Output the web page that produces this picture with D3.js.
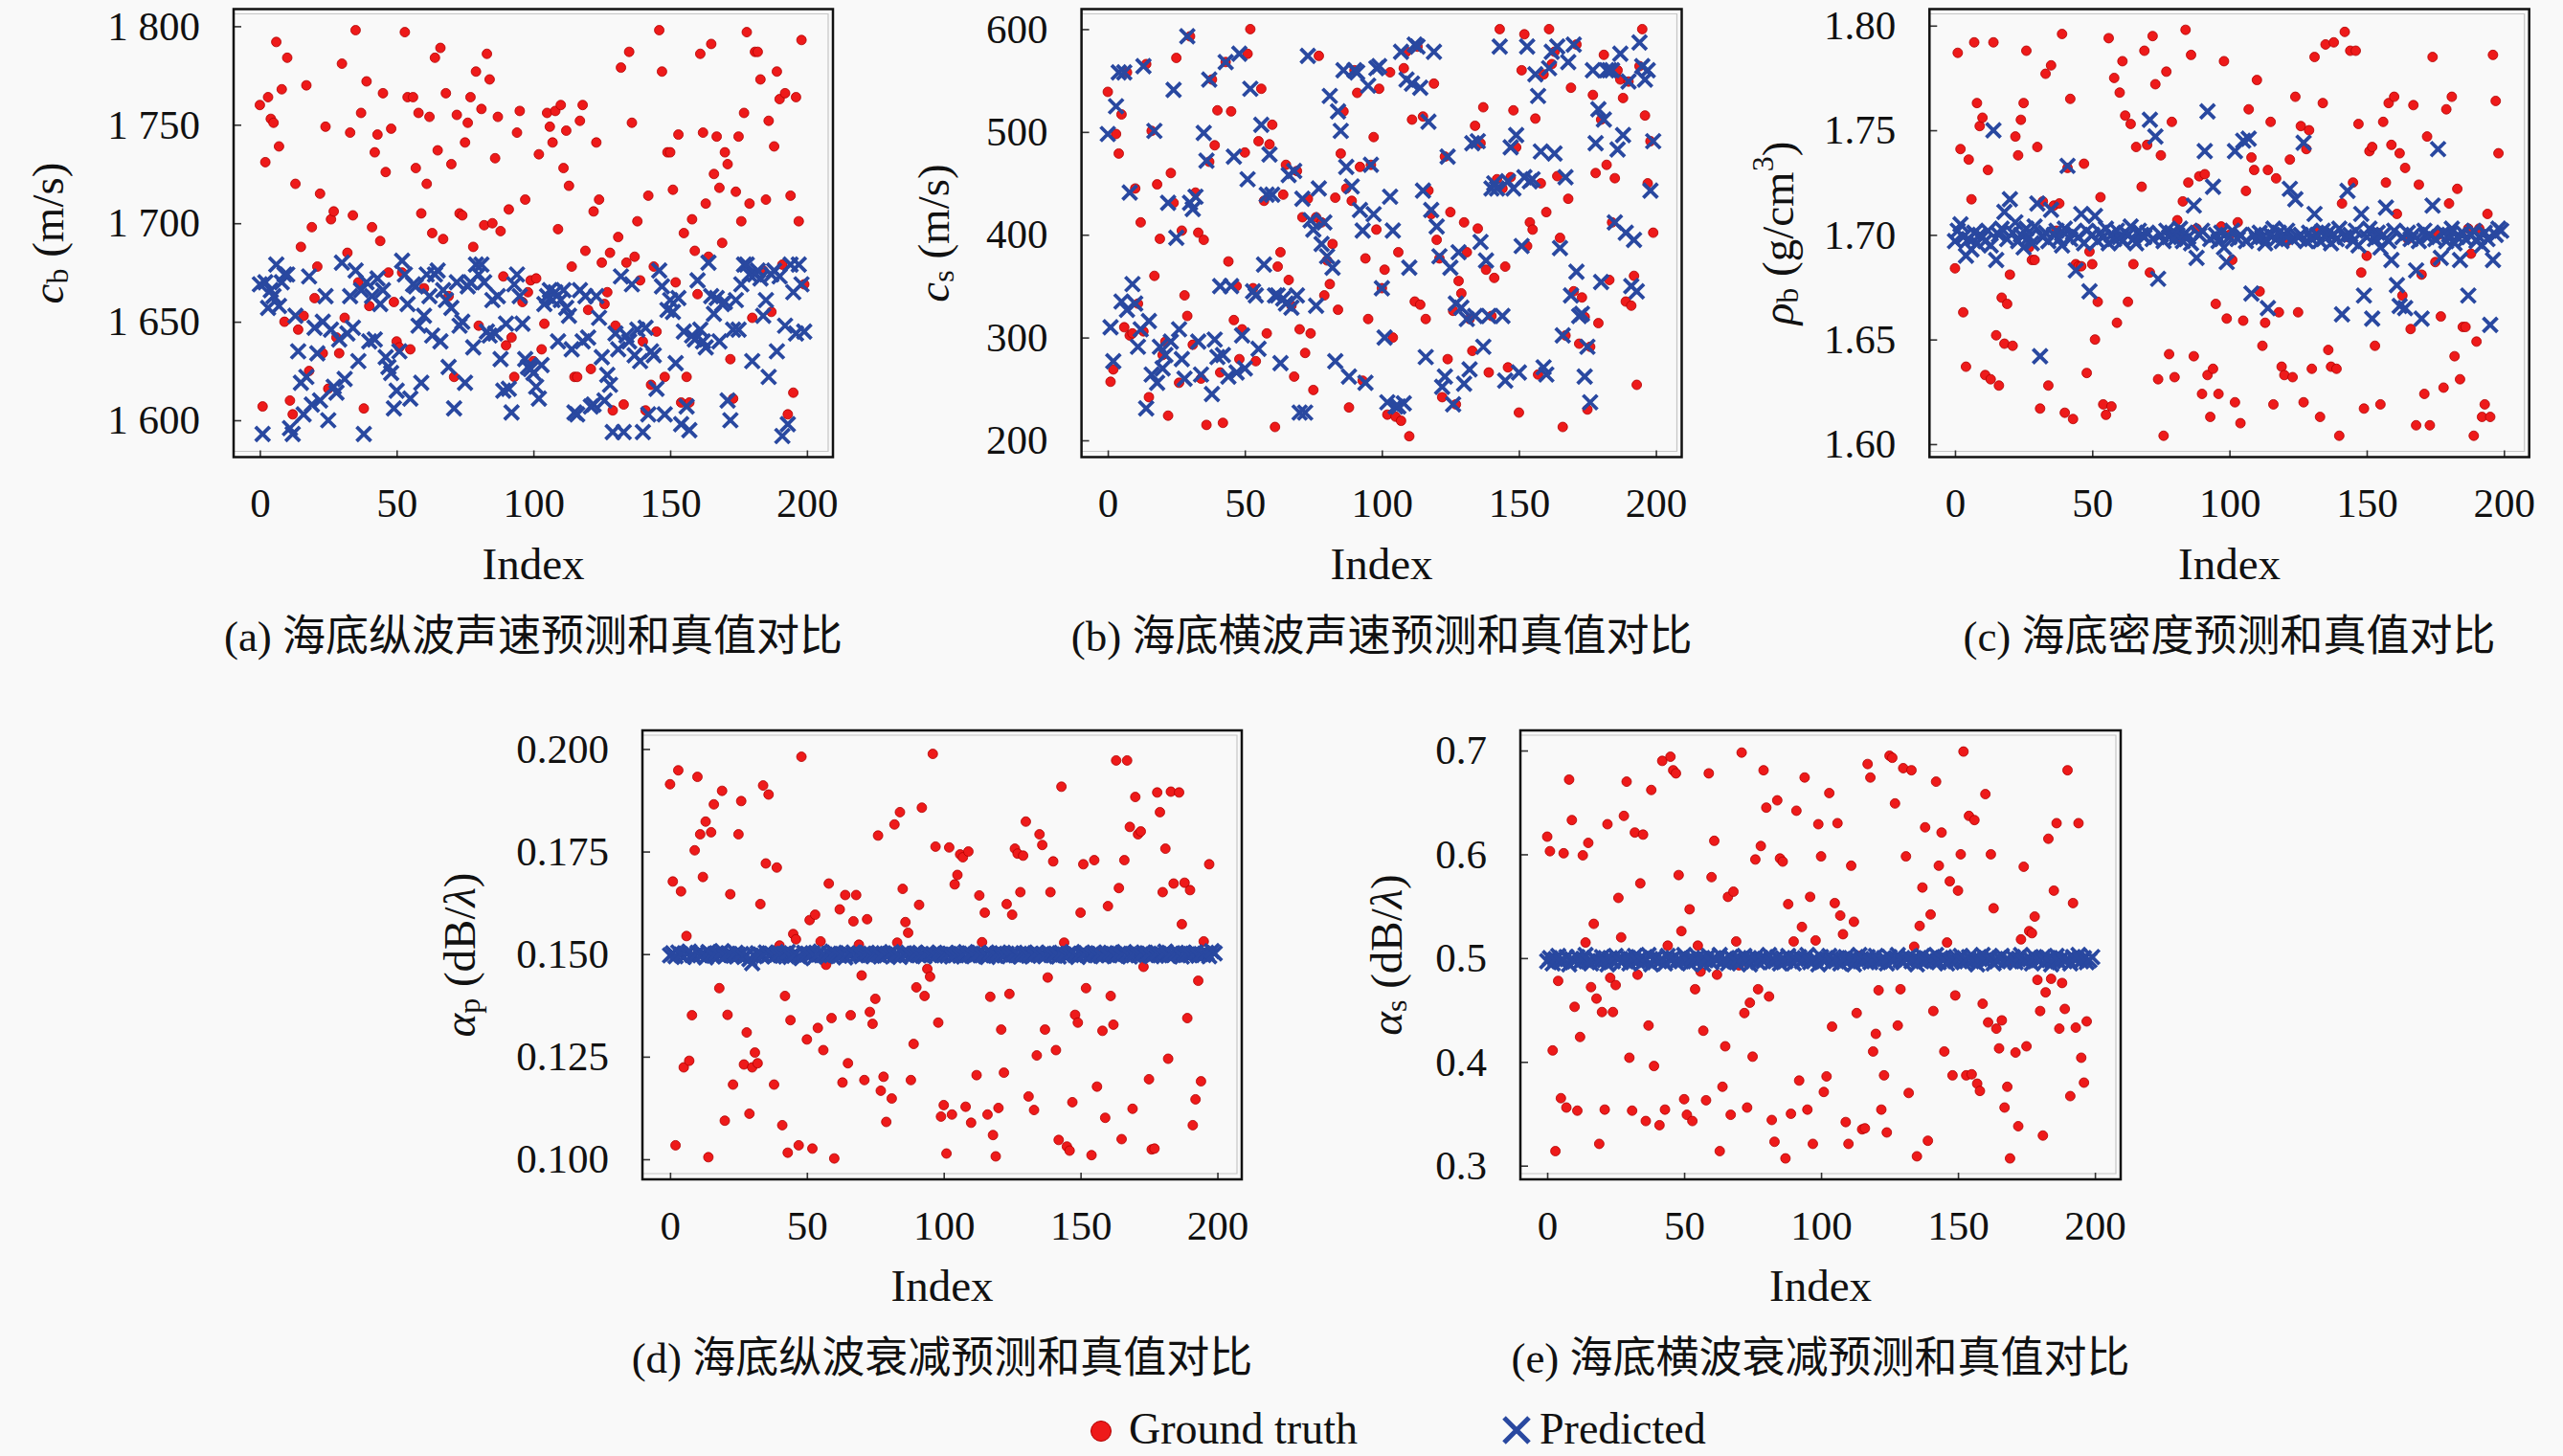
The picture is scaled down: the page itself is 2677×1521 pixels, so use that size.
<!DOCTYPE html>
<html>
<head>
<meta charset="utf-8">
<script src="https://cdn.jsdelivr.net/npm/d3@7"></script>
<style>
  body { margin: 0; background: #f9f9f9; }
  svg text { font-family: "Liberation Serif", "Noto Sans CJK SC", serif; fill: #111; }
</style>
</head>
<body>
<svg id="chart" width="2677" height="1521"></svg>
<script>
// ---- data ----
const xTicks = [0, 50, 100, 150, 200];

// (a) compressional speed c_b (m/s)
const aTicks = [1600, 1650, 1700, 1750, 1800];
const aTickLabels = ['1 600', '1 650', '1 700', '1 750', '1 800'];
const aTrue = [
  1760,1607,1731,1764,1753,1751,1792,1739,1768,1650,
  1784,1610,1603,1720,1646,1688,1653,1770,1625,1698,
  1662,1678,1715,1634,1749,1616,1702,1706,1642,1634,
  1781,1652,1685,1746,1704,1798,1670,1756,1606,1772,
  1658,1698,1736,1745,1691,1766,1726,1675,1748,1660,
  1640,1637,1675,1797,1764,1636,1764,1728,1756,1705,
  1667,1720,1754,1695,1784,1737,1789,1692,1766,1663,
  1730,1622,1755,1705,1704,1741,1751,1764,1688,1777,
  1648,1758,1699,1786,1773,1700,1733,1754,1696,1673,
  1638,1707,1642,1622,1746,1757,1660,1712,1665,1671,
  1630,1672,1735,1636,1649,1756,1749,1741,1757,1697,
  1760,1728,1747,1719,1678,1622,1622,1752,1760,1686,
  1656,1626,1706,1741,1712,1680,1659,1665,1685,1605,
  1648,1693,1779,1608,1680,1787,1751,1683,1701,1671,
  1640,1605,1714,1618,1678,1645,1798,1777,1622,1736,
  1736,1717,1670,1745,1609,1695,1622,1609,1702,1686,
  1664,1786,1746,1710,1683,1791,1725,1744,1718,1690,
  1736,1730,1631,1611,1716,1744,1701,1756,1797,1710,
  1652,1787,1787,1773,1676,1712,1752,1655,1739,1777,
  1763,1679,1766,1603,1714,1614,1764,1701,1793,1669
];
const aPred = [
  1669,1593,1670,1657,1666,1663,1679,1658,1670,1674,
  1674,1596,1593,1653,1635,1619,1603,1622,1673,1608,
  1647,1634,1610,1650,1663,1600,1646,1617,1614,1641,
  1680,1621,1644,1663,1647,1676,1630,1666,1593,1670,
  1640,1663,1641,1672,1659,1666,1632,1627,1624,1606,
  1615,1635,1681,1674,1659,1611,1669,1668,1648,1619,
  1653,1674,1663,1643,1674,1676,1640,1666,1661,1627,
  1657,1606,1670,1648,1650,1619,1668,1670,1637,1679,
  1674,1679,1670,1645,1643,1661,1644,1663,1631,1615,
  1649,1616,1604,1669,1674,1663,1649,1631,1627,1626,
  1624,1617,1611,1628,1659,1663,1666,1661,1665,1640,
  1661,1666,1657,1653,1636,1604,1603,1666,1640,1663,
  1642,1607,1608,1663,1652,1632,1610,1623,1618,1594,
  1644,1636,1673,1594,1643,1640,1669,1633,1646,1630,
  1594,1647,1603,1635,1633,1616,1676,1668,1603,1656,
  1661,1655,1629,1662,1598,1645,1607,1595,1643,1641,
  1671,1646,1640,1637,1680,1663,1654,1662,1640,1659,
  1660,1610,1600,1646,1661,1646,1669,1679,1679,1674,
  1630,1674,1676,1672,1653,1661,1622,1674,1676,1635,
  1673,1592,1648,1598,1679,1665,1644,1679,1669,1645
];

// (b) shear speed c_s (m/s)
const bTicks = [200, 300, 400, 500, 600];
const bTickLabels = ['200', '300', '400', '500', '600'];
const bTrue = [
  539,257,269,498,479,517,310,558,302,304,445,333,412,
  306,566,242,501,360,449,396,283,296,224,460,431,572,256,
  404,341,321,593,293,441,402,260,395,215,471,551,487,
  521,266,217,568,374,520,317,350,279,308,480,576,600,
  348,277,491,542,433,304,488,507,213,369,383,439,468,
  356,331,262,462,308,417,285,435,304,249,417,574,412,
  341,375,352,391,436,327,479,520,445,232,433,560,538,466,
  258,377,318,468,495,405,542,348,366,225,558,300,223,
  383,219,562,578,204,512,335,583,332,515,318,443,420,547,
  395,377,242,476,279,422,326,235,355,343,412,383,318,
  287,506,406,489,524,366,266,321,358,454,600,445,369,
  271,456,521,485,227,560,595,389,412,405,513,264,450,556,
  422,600,566,578,457,397,213,302,435,543,345,585,294,
  339,320,230,291,536,460,314,512,575,468,356,412,455,560,
  551,533,335,549,331,360,254,564,600,516,450,491,402
];
const bPred = [
  498,310,277,525,558,335,558,327,441,352,
  333,291,308,564,231,316,264,501,256,291,270,
  283,431,296,541,397,308,279,260,593,431,425,
  437,296,264,499,472,551,245,298,281,350,283,
  568,262,350,476,266,576,302,270,454,542,345,
  341,289,507,371,439,478,439,341,341,275,338,
  333,458,329,462,341,227,435,227,574,414,405,
  331,445,391,412,379,535,368,277,520,501,560,
  466,262,447,560,558,424,404,256,545,468,420,
  562,564,348,300,237,437,404,233,233,578,236,
  551,368,547,585,583,543,443,281,510,424,578,
  408,379,252,262,476,368,235,333,383,329,255,
  318,269,489,321,491,393,291,375,321,445,450,
  445,583,321,258,452,485,445,497,266,389,456,
  583,452,454,556,535,481,271,264,562,578,
  479,583,387,302,456,568,341,585,364,321,
  323,262,291,237,560,489,522,354,512,560,
  560,560,412,483,576,497,402,549,350,395,
  345,587,564,551,560,443,491
];

// (c) density rho_b (g/cm3)
const cTicks = [1.60, 1.65, 1.70, 1.75, 1.80];
const cTickLabels = ['1.60', '1.65', '1.70', '1.75', '1.80'];
const cTrue = [
  1.684,1.787,1.741,1.663,1.637,1.736,1.717,1.792,1.763,1.752,
  1.756,1.633,1.731,1.631,1.792,1.652,1.628,1.670,1.648,1.667,
  1.681,1.647,1.747,1.738,1.755,1.763,1.788,1.694,1.688,1.688,
  1.742,1.617,1.716,1.777,1.628,1.781,1.714,1.702,1.715,1.796,
  1.615,1.732,1.765,1.612,1.686,1.685,1.685,1.734,1.634,1.692,
  1.686,1.650,1.668,1.718,1.619,1.614,1.794,1.618,1.775,1.658,
  1.768,1.783,1.757,1.668,1.753,1.686,1.742,1.699,1.723,1.788,
  1.743,1.682,1.795,1.772,1.631,1.738,1.604,1.778,1.643,1.754,
  1.632,1.707,1.698,1.716,1.798,1.725,1.786,1.642,1.703,1.728,
  1.624,1.729,1.633,1.613,1.636,1.667,1.624,1.704,1.783,1.660,1.700,
  1.688,1.620,1.706,1.610,1.659,1.721,1.760,1.737,1.731,1.774,
  1.673,1.647,1.658,1.731,1.754,1.619,1.727,1.663,1.637,1.633,1.697,
  1.736,1.632,1.766,1.663,1.752,1.620,1.741,1.750,1.636,1.785,1.702,
  1.613,1.763,1.791,1.645,1.637,1.792,1.636,1.604,1.715,1.797,1.699,
  1.788,1.725,1.788,1.753,1.682,1.617,1.690,1.740,1.742,1.647,1.701,
  1.619,1.754,1.725,1.763,1.743,1.766,1.710,1.739,1.671,1.732,1.698,
  1.655,1.762,1.609,1.724,1.681,1.624,1.747,1.609,1.785,1.687,1.700,
  1.661,1.627,1.760,1.715,1.766,1.642,1.722,1.631,1.656,1.656,1.703,
  1.691,1.604,1.649,1.703,1.613,1.619,1.710,1.613,1.786,1.764,
  1.739
];
const cPred = [
  1.697,1.702,1.705,1.699,1.690,1.698,1.693,1.701,1.696,1.700,
  1.699,1.697,1.702,1.695,1.750,1.688,1.700,1.703,1.711,1.698,
  1.717,1.701,1.706,1.697,1.700,1.694,1.703,1.699,1.696,1.704,
  1.715,1.642,1.699,1.701,1.697,1.712,1.700,1.702,1.698,1.695,
  1.703,1.733,1.698,1.701,1.683,1.699,1.710,1.696,1.702,1.673,
  1.700,1.709,1.697,1.701,1.699,1.703,1.696,1.700,1.698,1.702,
  1.699,1.697,1.701,1.700,1.704,1.698,1.696,1.702,1.700,1.699,
  1.701,1.755,1.698,1.747,1.679,1.700,1.697,1.702,1.699,1.701,
  1.698,1.700,1.703,1.697,1.701,1.699,1.696,1.714,1.689,1.700,
  1.702,1.740,1.759,1.698,1.723,1.700,1.697,1.701,1.694,1.687,
  1.699,1.702,1.740,1.698,1.700,1.745,1.697,1.746,1.672,1.700,
  1.698,1.701,1.699,1.696,1.665,1.700,1.703,1.698,1.701,1.697,
  1.700,1.702,1.722,1.698,1.717,1.699,1.700,1.744,1.697,1.701,
  1.698,1.710,1.700,1.697,1.702,1.699,1.701,1.696,1.700,1.698,
  1.703,1.662,1.699,1.721,1.700,1.697,1.702,1.695,1.710,1.671,
  1.699,1.703,1.660,1.698,1.701,1.694,1.700,1.713,1.697,1.688,
  1.702,1.676,1.666,1.699,1.665,1.701,1.698,1.700,1.683,1.697,
  1.660,1.702,1.699,1.700,1.714,1.698,1.741,1.689,1.701,1.697,
  1.700,1.703,1.696,1.699,1.688,1.701,1.698,1.671,1.700,1.702,
  1.697,1.699,1.695,1.701,1.698,1.657,1.688,1.700,1.703,1.702
];

// (d) compressional attenuation alpha_p (dB/lambda)
const dTicks = [0.100, 0.125, 0.150, 0.175, 0.200];
const dTickLabels = ['0.100', '0.125', '0.150', '0.175', '0.200'];
const dTrue = [
  0.1914,0.1677,0.1034,0.1948,0.1653,0.1224,0.1544,0.1240,0.1351,0.1753,
  0.1932,0.1792,0.1688,0.1823,0.1005,0.1797,0.1865,0.1502,0.1417,0.1898,
  0.1094,0.1352,0.1646,0.1182,0.1497,0.1792,0.1873,0.1231,0.1309,0.1111,
  0.1224,0.1260,0.1234,0.1622,0.1911,0.1721,0.1889,0.1505,0.1182,0.1711,
  0.1521,0.1083,0.1398,0.1016,0.1339,0.1549,0.1536,0.1034,0.1981,0.1495,
  0.1292,0.1583,0.1026,0.1596,0.1320,0.1531,0.1266,0.1474,0.1672,0.1344,
  0.1002,0.1503,0.1609,0.1187,0.1644,0.1234,0.1351,0.1580,0.1644,0.1523,
  0.1448,0.1193,0.1585,0.1359,0.1330,0.1391,0.1789,0.1167,0.1201,0.1091,0.1499,
  0.1148,0.1816,0.1528,0.1846,0.1659,0.1578,0.1552,0.1193,0.1281,0.1419,
  0.1620,0.1857,0.1398,0.1464,0.1445,0.1988,0.1762,0.1333,0.1104,0.1132,
  0.1014,0.1760,0.1109,0.1670,0.1693,0.1743,0.1736,0.1128,0.1750,0.1089,0.1502,
  0.1205,0.1643,0.1529,0.1601,0.1109,0.1396,0.1059,0.1007,0.1125,0.1316,
  0.1211,0.1622,0.1403,0.1596,0.1757,0.1745,0.1651,0.1740,0.1823,0.1153,0.1497,
  0.1120,0.1253,0.1792,0.1766,0.1316,0.1443,0.1651,0.1726,0.1266,0.1047,
  0.1908,0.1528,0.1031,0.1021,0.1139,0.1352,0.1333,0.1601,0.1719,0.1417,0.1504,
  0.1010,0.1729,0.1177,0.1498,0.1313,0.1101,0.1617,0.1398,0.1328,0.1972,
  0.1661,0.1049,0.1729,0.1972,0.1810,0.1123,0.1883,0.1792,0.1799,0.1469,0.1496,
  0.1195,0.1024,0.1026,0.1894,0.1846,0.1651,0.1757,0.1245,0.1896,0.1672,0.1503,
  0.1894,0.1573,0.1674,0.1344,0.1656,0.1083,0.1146,0.1435,0.1190,0.1531,0.1498,
  0.1719
];
const dPred = [
  0.1497,0.1502,0.1495,0.1504,0.1499,0.1493,0.1501,0.1506,0.1498,0.1494,
  0.1503,0.1497,0.1500,0.1492,0.1505,0.1499,0.1496,0.1502,0.1498,0.1507,
  0.1494,0.1501,0.1499,0.1496,0.1503,0.1498,0.1500,0.1493,0.1497,0.1488,
  0.1478,0.1495,0.1502,0.1499,0.1496,0.1504,0.1497,0.1501,0.1494,0.1499,
  0.1502,0.1496,0.1500,0.1505,0.1493,0.1498,0.1501,0.1495,0.1490,0.1503,
  0.1499,0.1497,0.1502,0.1494,0.1500,0.1506,0.1498,0.1495,0.1501,0.1497,
  0.1503,0.1499,0.1496,0.1500,0.1492,0.1502,0.1498,0.1504,0.1497,0.1501,
  0.1495,0.1500,0.1503,0.1498,0.1496,0.1501,0.1499,0.1494,0.1502,0.1497,
  0.1500,0.1505,0.1497,0.1499,0.1493,0.1501,0.1498,0.1503,0.1496,0.1500,
  0.1502,0.1497,0.1499,0.1495,0.1504,0.1498,0.1500,0.1496,0.1501,0.1499,
  0.1497,0.1503,0.1500,0.1494,0.1498,0.1502,0.1496,0.1499,0.1505,0.1497,
  0.1501,0.1495,0.1499,0.1503,0.1497,0.1500,0.1493,0.1502,0.1498,0.1496,
  0.1504,0.1499,0.1497,0.1501,0.1495,0.1500,0.1503,0.1498,0.1494,0.1502,
  0.1499,0.1496,0.1501,0.1497,0.1504,0.1498,0.1500,0.1495,0.1502,0.1499,
  0.1497,0.1501,0.1494,0.1503,0.1499,0.1496,0.1500,0.1505,0.1498,0.1493,
  0.1501,0.1498,0.1502,0.1496,0.1499,0.1504,0.1497,0.1500,0.1495,0.1502,
  0.1498,0.1503,0.1500,0.1496,0.1501,0.1497,0.1505,0.1499,0.1494,0.1500,
  0.1502,0.1497,0.1499,0.1504,0.1498,0.1501,0.1495,0.1500,0.1503,0.1497,
  0.1499,0.1506,0.1496,0.1501,0.1498,0.1503,0.1500,0.1494,0.1502,0.1499,
  0.1497,0.1501,0.1504,0.1496,0.1500,0.1498,0.1503,0.1495,0.1507,0.1502
];

// (e) shear attenuation alpha_s (dB/lambda)
const eTicks = [0.3, 0.4, 0.5, 0.6, 0.7];
const eTickLabels = ['0.3', '0.4', '0.5', '0.6', '0.7'];
const eTrue = [
  0.617,0.603,0.411,0.314,0.478,0.365,0.601,0.356,0.672,0.633,
  0.453,0.353,0.424,0.599,0.515,0.611,0.472,0.533,0.461,0.321,
  0.448,0.354,0.629,0.481,0.448,0.474,0.558,0.520,0.637,0.670,
  0.404,0.353,0.621,0.484,0.572,0.619,0.343,0.435,0.662,0.396,
  0.499,0.339,0.690,0.354,0.512,0.694,0.681,0.678,0.580,0.526,
  0.364,0.349,0.547,0.343,0.470,0.512,0.487,0.430,0.363,0.678,
  0.578,0.613,0.484,0.314,0.376,0.415,0.559,0.349,0.564,0.516,
  0.493,0.698,0.447,0.356,0.457,0.405,0.595,0.470,0.608,0.681,
  0.645,0.463,0.344,0.323,0.652,0.596,0.593,0.307,0.552,0.350,
  0.516,0.642,0.382,0.530,0.674,0.354,0.559,0.321,0.517,0.629,
  0.598,0.371,0.386,0.659,0.434,0.553,0.630,0.541,0.523,0.342,
  0.321,0.589,0.535,0.447,0.502,0.335,0.336,0.687,0.674,0.410,
  0.427,0.469,0.354,0.387,0.332,0.695,0.693,0.649,0.435,0.470,
  0.683,0.598,0.370,0.681,0.511,0.309,0.531,0.568,0.626,0.324,
  0.542,0.449,0.670,0.589,0.621,0.410,0.515,0.574,0.387,0.464,
  0.565,0.600,0.699,0.387,0.637,0.388,0.633,0.379,0.372,0.456,
  0.658,0.438,0.600,0.548,0.432,0.413,0.440,0.356,0.376,0.307,
  0.497,0.409,0.338,0.518,0.588,0.415,0.526,0.524,0.540,0.479,
  0.449,0.329,0.467,0.615,0.480,0.565,0.630,0.432,0.476,0.451,
  0.681,0.367,0.553,0.433,0.630,0.404,0.380,0.439
];
const ePred = [
  0.497,0.500,0.495,0.499,0.502,0.496,0.498,0.501,0.494,0.499,
  0.497,0.501,0.496,0.499,0.503,0.497,0.495,0.500,0.498,0.496,
  0.501,0.498,0.494,0.500,0.497,0.502,0.499,0.496,0.498,0.501,
  0.495,0.499,0.502,0.497,0.500,0.496,0.498,0.503,0.494,0.499,
  0.501,0.497,0.499,0.495,0.502,0.498,0.500,0.496,0.499,0.497,
  0.503,0.498,0.495,0.500,0.497,0.501,0.499,0.494,0.498,0.502,
  0.496,0.500,0.498,0.503,0.497,0.499,0.495,0.501,0.498,0.496,
  0.500,0.497,0.502,0.498,0.494,0.499,0.501,0.496,0.500,0.497,
  0.499,0.503,0.496,0.498,0.501,0.495,0.500,0.497,0.502,0.498,
  0.495,0.499,0.501,0.497,0.500,0.503,0.496,0.498,0.499,0.494,
  0.501,0.497,0.499,0.502,0.496,0.498,0.500,0.495,0.499,0.501,
  0.497,0.500,0.494,0.499,0.503,0.497,0.498,0.501,0.496,0.499,
  0.502,0.496,0.498,0.500,0.495,0.501,0.497,0.499,0.503,0.498,
  0.496,0.499,0.501,0.497,0.500,0.494,0.498,0.502,0.497,0.499,
  0.500,0.497,0.503,0.496,0.499,0.501,0.495,0.498,0.500,0.497,
  0.499,0.502,0.496,0.498,0.501,0.497,0.500,0.494,0.499,0.503,
  0.497,0.499,0.501,0.495,0.498,0.500,0.502,0.496,0.499,0.497,
  0.501,0.496,0.499,0.503,0.497,0.498,0.500,0.495,0.501,0.498,
  0.498,0.501,0.497,0.500,0.494,0.499,0.502,0.496,0.500,0.497,
  0.499,0.495,0.501,0.498,0.503,0.497,0.500,0.496,0.498,0.501
];

// ---- layout ----
const RED = '#ee1a1a', BLUE = '#2948a0';
const serif = '"Liberation Serif", "Noto Sans CJK SC", serif';

const panels = [
  { box: [244, 9.5, 870, 477.5], xDom: [-9.6, 209.5], yDom: [1581.3, 1808.7],
    ticks: aTicks, tickLabels: aTickLabels, truth: aTrue, pred: aPred, labelX: 50,
    label: [['c', 'i'], ['b', 'sub'], [' (m/s)', '']], caption: '(a) 海底纵波声速预测和真值对比' },
  { box: [1129.6, 9.5, 1756.5, 477.5], xDom: [-9.6, 209.4], yDom: [183.7, 619.5],
    ticks: bTicks, tickLabels: bTickLabels, truth: bTrue, pred: bPred, labelX: 975,
    label: [['c', 'i'], ['s', 'sub'], [' (m/s)', '']], caption: '(b) 海底横波声速预测和真值对比' },
  { box: [2015.3, 9.5, 2641.7, 477.5], xDom: [-9.3, 209.2], yDom: [1.5938, 1.8079],
    ticks: cTicks, tickLabels: cTickLabels, truth: cTrue, pred: cPred, labelX: 1857,
    label: [['ρ', 'i'], ['b', 'sub'], [' (g/cm', ''], ['3', 'sup'], [')', '']], caption: '(c) 海底密度预测和真值对比' },
  { box: [671, 763, 1297, 1232], xDom: [-10.1, 208.9], yDom: [0.0951, 0.20453],
    ticks: dTicks, tickLabels: dTickLabels, truth: dTrue, pred: dPred, labelX: 480,
    label: [['α', 'i'], ['p', 'sub'], [' (dB/', ''], ['λ', 'i'], [')', '']], caption: '(d) 海底纵波衰减预测和真值对比' },
  { box: [1588, 763, 2215, 1232], xDom: [-9.8, 209.4], yDom: [0.2868, 0.7194],
    ticks: eTicks, tickLabels: eTickLabels, truth: eTrue, pred: ePred, labelX: 1448,
    label: [['α', 'i'], ['s', 'sub'], [' (dB/', ''], ['λ', 'i'], [')', '']], caption: '(e) 海底横波衰减预测和真值对比' }
];

const svg = d3.select('#chart');
svg.append('rect').attr('width', 2677).attr('height', 1521).attr('fill', '#f9f9f9');

const crossPath = s => `M${-s},${-s}L${s},${s}M${-s},${s}L${s},${-s}`;

panels.forEach(p => {
  const [left, top, right, bottom] = p.box;
  const x = d3.scaleLinear().domain(p.xDom).range([left, right]);
  const y = d3.scaleLinear().domain(p.yDom).range([bottom, top]);
  const g = svg.append('g');

  // faint inner line seen just inside the frame
  g.append('path')
    .attr('d', `M${left},${top + 5}H${right - 5}V${bottom - 6}H${left}`)
    .attr('fill', 'none').attr('stroke', '#c6c6c6').attr('stroke-width', 1.2);

  // axes (ticks point inward)
  const yAxis = g.append('g').attr('transform', `translate(${left},0)`)
    .call(d3.axisLeft(y).tickValues(p.ticks).tickFormat((d, i) => p.tickLabels[i])
      .tickSize(-8).tickPadding(35));
  const xAxis = g.append('g').attr('transform', `translate(0,${bottom})`)
    .call(d3.axisBottom(x).tickValues(xTicks).tickFormat(d3.format('d'))
      .tickSize(-7).tickPadding(32));
  [yAxis, xAxis].forEach(ax => {
    ax.select('.domain').remove();
    ax.selectAll('line').attr('stroke', '#333').attr('stroke-width', 1.6);
    ax.selectAll('text').attr('font-size', 43).attr('font-family', serif).attr('fill', '#111');
  });

  // ground truth dots
  g.append('g').selectAll('circle')
    .data(p.truth)
    .enter()
    .append('circle')
    .attr('cx', (d, i) => x(i))
    .attr('cy', d => y(d))
    .attr('r', 5)
    .attr('fill', RED)
    .attr('stroke', '#b00000')
    .attr('stroke-width', 0.8);

  // predicted crosses
  g.append('g').selectAll('path')
    .data(p.pred)
    .enter()
    .append('path')
    .attr('transform', (d, i) => `translate(${x(i)},${y(d)})`)
    .attr('d', crossPath(7.5))
    .attr('fill', 'none')
    .attr('stroke', BLUE)
    .attr('stroke-width', 3.8);

  // frame
  g.append('rect')
    .attr('x', left).attr('y', top)
    .attr('width', right - left).attr('height', bottom - top)
    .attr('fill', 'none').attr('stroke', '#111').attr('stroke-width', 2.5);

  // axis titles
  g.append('text')
    .attr('x', (left + right) / 2).attr('y', bottom + 127)
    .attr('text-anchor', 'middle').attr('font-size', 47).attr('font-family', serif)
    .text('Index');

  const lab = g.append('text')
    .attr('transform', `translate(${p.labelX},${(top + bottom) / 2}) rotate(-90)`)
    .attr('text-anchor', 'middle').attr('dominant-baseline', 'central')
    .attr('font-size', 47).attr('font-family', serif);
  let shift = 0;
  p.label.forEach(([t, kind]) => {
    const ts = lab.append('tspan').text(t);
    let want = 0;
    if (kind === 'i') ts.attr('font-style', 'italic');
    if (kind === 'sub') { want = 10; ts.attr('font-size', 32); }
    if (kind === 'sup') { want = -16; ts.attr('font-size', 32); }
    ts.attr('dy', want - shift);
    shift = want;
  });

  // caption
  g.append('text')
    .attr('x', (left + right) / 2).attr('y', bottom + 202)
    .attr('text-anchor', 'middle').attr('font-size', 45).attr('font-family', serif)
    .text(p.caption);
});

// legend
const leg = svg.append('g');
leg.append('circle').attr('cx', 1150).attr('cy', 1495).attr('r', 10.5)
  .attr('fill', RED).attr('stroke', '#b00000').attr('stroke-width', 1);
leg.append('text').attr('x', 1179).attr('y', 1508).attr('font-size', 46)
  .attr('font-family', serif).text('Ground truth');
leg.append('path').attr('transform', 'translate(1584,1494)').attr('d', crossPath(13))
  .attr('fill', 'none').attr('stroke', BLUE).attr('stroke-width', 5);
leg.append('text').attr('x', 1608).attr('y', 1508).attr('font-size', 46)
  .attr('font-family', serif).text('Predicted');
</script>
</body>
</html>
